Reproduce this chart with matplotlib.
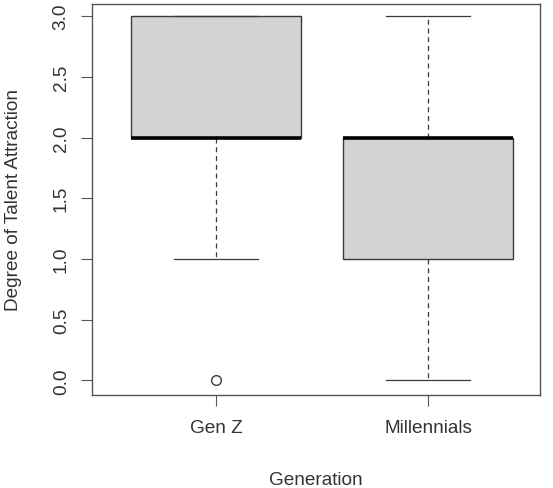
import matplotlib.pyplot as plt

plt.rcParams['font.family'] = ['Liberation Sans', 'DejaVu Sans']

generations = ['Gen Z', 'Millennials']
whisker_low = [1.0, 0.0]
q1 = [2.0, 1.0]
medians = [2.0, 2.0]
q3 = [3.0, 2.0]
whisker_high = [3.0, 3.0]
outliers = [[0.0], []]

stats = []
for i, name in enumerate(generations):
    stats.append({'label': name, 'whislo': whisker_low[i], 'q1': q1[i],
                  'med': medians[i], 'q3': q3[i], 'whishi': whisker_high[i],
                  'fliers': outliers[i]})

fig = plt.figure(figsize=(5.53, 4.89), dpi=100)
ax = fig.add_axes([92 / 553, 1 - 396 / 489, 448 / 553, 391 / 489])

edge = '#3a3a3a'
ax.bxp(stats, positions=[1, 2], widths=0.8, patch_artist=True,
       boxprops=dict(facecolor='#d3d3d3', edgecolor=edge, linewidth=1.0),
       medianprops=dict(color='black', linewidth=2.6),
       whiskerprops=dict(color=edge, linestyle=(0, (4, 3)), linewidth=0.9),
       capprops=dict(color=edge, linewidth=0.9),
       flierprops=dict(marker='o', markerfacecolor='none', markeredgecolor=edge,
                       markersize=7, markeredgewidth=1.0),
       capwidths=0.4)

ax.set_xlim(0.415, 2.528)
ax.set_ylim(-0.12, 3.1)
ax.set_yticks([0.0, 0.5, 1.0, 1.5, 2.0, 2.5, 3.0])
ax.set_yticklabels(['0.0', '0.5', '1.0', '1.5', '2.0', '2.5', '3.0'], rotation=90, va='center')
ax.set_xticks([1, 2])
ax.set_xticklabels(generations)

for s in ax.spines.values():
    s.set_color('#555555')
    s.set_linewidth(1.0)
ax.tick_params(colors='#555555', labelcolor='#333333', labelsize=13.7, length=8)
ax.tick_params(axis='x', pad=9.5)
ax.tick_params(axis='y', pad=8)

ax.set_xlabel('Generation', fontsize=13.7, color='#333333', labelpad=25)
ax.set_ylabel('Degree of Talent Attraction', fontsize=13.7, color='#333333', labelpad=22)

fig.savefig('out.png', dpi=100)
